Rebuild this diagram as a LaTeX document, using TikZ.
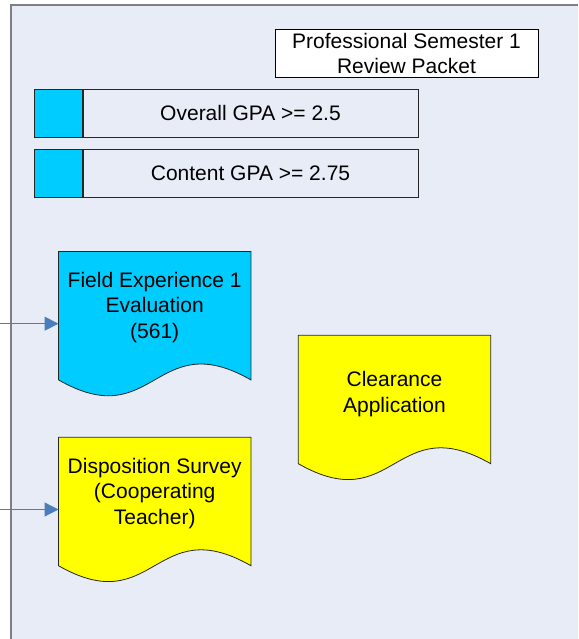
\documentclass[tikz,border=0pt]{standalone}
\usepackage{fontspec}
\setmainfont{Liberation Sans}
\usetikzlibrary{arrows.meta, positioning, calc}
\definecolor{panelblue}{RGB}{231,236,247}
\definecolor{panelgray}{RGB}{128,128,128}
\definecolor{keycyan}{RGB}{0,204,255}
\definecolor{docyellow}{RGB}{255,255,0}
\definecolor{linkblue}{RGB}{74,126,187}
\pgfdeclarelayer{panel}
\pgfdeclarelayer{shapes}
\pgfsetlayers{panel,shapes,main}
\newcommand{\diagfont}{\fontsize{21}{25.5}\selectfont}
\tikzset{
    packet/.style={
        rectangle, draw=black, fill=white, line width=0.8pt, minimum width=263pt, minimum height=48pt,
        align=center, font=\diagfont
    },
    gpa_box/.style={
        rectangle, draw=black!85, line width=0.8pt, minimum width=335pt, minimum height=48pt,
        align=center, font=\diagfont
    },
    gpa_key/.style={
        rectangle, draw=black!85, fill=keycyan, line width=0.8pt, minimum width=48pt, minimum height=48pt
    },
    doc/.style={
        rectangle, minimum width=192pt, minimum height=144pt, align=center, text depth=37pt, font=\diagfont
    },
    doc_line/.style={
        draw=black!85, line width=0.8pt
    },
    arrow_blue/.style={
        line width=1.2pt, -{Triangle[length=14pt, width=14pt]}, draw=linkblue
    }
}
% document shape with wavy bottom edge, drawn behind a named node
\newcommand{\docshape}[2]{%
    \filldraw[doc_line, fill=#2] (#1.north west) -- (#1.north east) -- ([yshift=16pt]#1.south east)
        .. controls ([yshift=71pt]#1.south) and ([yshift=-39pt]#1.south) .. ([yshift=16pt]#1.south west) -- cycle;
}

\begin{document}
\begin{tikzpicture}[x=1pt, y=1pt]
    \useasboundingbox (0,0) rectangle (578,639);
    \begin{pgfonlayer}{panel}
        \fill[panelblue] (11,0) rectangle (578,634);
        \draw[panelgray, line width=2pt] (11,0) -- (11,634) -- (578,634);
    \end{pgfonlayer}

    \node[packet] (packet) at (406.5, 585.7) {Professional Semester 1\\Review Packet};
    \node[gpa_box] (gpaall) at (250.5, 525.7) {Overall GPA >= 2.5};
    \node[gpa_key, left=0pt of gpaall] (gpaallkey) {};
    \node[gpa_box] (gpacontent) at (250.5, 465.7) {Content GPA >= 2.75};
    \node[gpa_key, left=0pt of gpacontent] (gpacontentkey) {};

    \node[doc] (fieldexp) at (154.7, 315.3) {Field Experience 1\\Evaluation\\(561)};
    \node[doc, text depth=31pt] (clearance) at (394.5, 231.5) {Clearance\\Application};
    \node[doc] (disposition) at (154.7, 129.5) {Disposition Survey\\(Cooperating\\Teacher)};

    \begin{pgfonlayer}{shapes}
        \docshape{fieldexp}{keycyan}
        \docshape{clearance}{docyellow}
        \docshape{disposition}{docyellow}
    \end{pgfonlayer}

    \coordinate (fieldin) at (0, 315.3);
    \coordinate (dispin) at (0, 129.5);
    \draw[arrow_blue] (fieldin) -- (fieldexp.west);
    \draw[arrow_blue] (dispin) -- (disposition.west);
\end{tikzpicture}
\end{document}
